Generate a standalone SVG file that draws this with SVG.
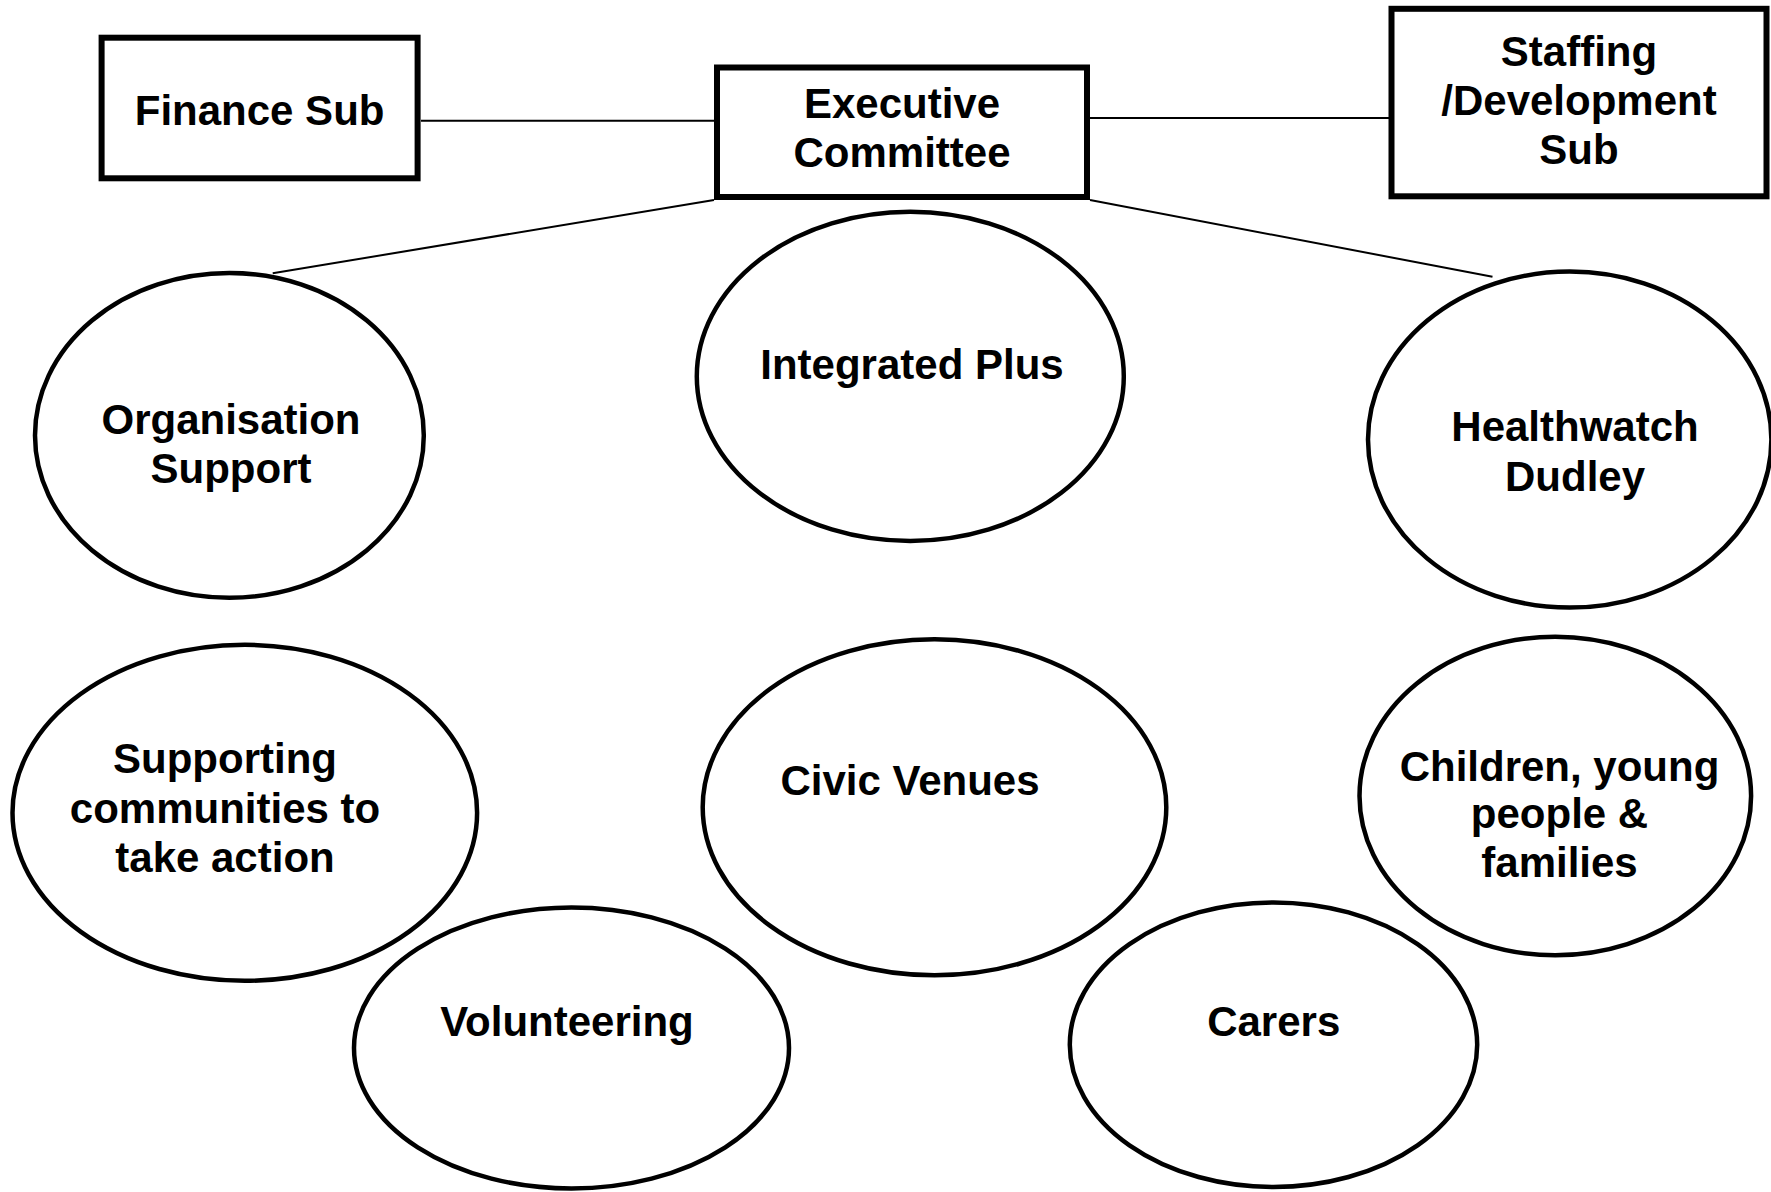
<svg xmlns="http://www.w3.org/2000/svg" width="1771" height="1192" viewBox="0 0 1771 1192">
  <style>
    .box { fill: #ffffff; stroke: #000000; stroke-width: 6; }
    .oval { fill: none; stroke: #000000; stroke-width: 4.5; }
    .link { stroke: #000000; stroke-width: 2; fill: none; }
    .label { font-family: "Liberation Sans", Arial, sans-serif; font-weight: bold; font-size: 42px; fill: #000000; text-anchor: middle; }
  </style>
  <rect x="0" y="0" width="1771" height="1192" fill="#ffffff"/>

  <!-- connectors -->
  <g id="connectors">
    <line class="link" x1="421" y1="120.7" x2="714" y2="120.7"/>
    <line class="link" x1="1090" y1="118" x2="1389" y2="118"/>
    <line class="link" x1="714" y1="200" x2="272.7" y2="273.3"/>
    <line class="link" x1="1090" y1="200" x2="1492.5" y2="276.7"/>
  </g>

  <!-- committees -->
  <g id="finance-sub">
    <rect class="box" x="101.6" y="37.7" width="316" height="140.6"/>
    <text class="label" x="259.6" y="125">Finance Sub</text>
  </g>
  <g id="executive-committee">
    <rect class="box" x="717" y="67.5" width="370" height="129.5"/>
    <text class="label" x="902" y="118">Executive</text>
    <text class="label" x="902" y="167">Committee</text>
  </g>
  <g id="staffing-development-sub">
    <rect class="box" x="1391.5" y="8.8" width="375" height="187.5"/>
    <text class="label" x="1579" y="66">Staffing</text>
    <text class="label" x="1579" y="115">/Development</text>
    <text class="label" x="1579" y="164">Sub</text>
  </g>

  <!-- services -->
  <g id="organisation-support">
    <ellipse class="oval" cx="229.4" cy="435.4" rx="194.4" ry="162.4"/>
    <text class="label" x="231" y="434">Organisation</text>
    <text class="label" x="231" y="483">Support</text>
  </g>
  <g id="integrated-plus">
    <ellipse class="oval" cx="910.3" cy="376.4" rx="213.5" ry="164.6"/>
    <text class="label" x="912" y="379">Integrated Plus</text>
  </g>
  <g id="healthwatch-dudley">
    <ellipse class="oval" cx="1569.7" cy="439.6" rx="201.7" ry="168"/>
    <text class="label" x="1575" y="440.5">Healthwatch</text>
    <text class="label" x="1575" y="490.5">Dudley</text>
  </g>
  <g id="supporting-communities">
    <ellipse class="oval" cx="244.8" cy="812.8" rx="232.3" ry="168"/>
    <text class="label" x="225" y="773">Supporting</text>
    <text class="label" x="225" y="822.5">communities to</text>
    <text class="label" x="225" y="872">take action</text>
  </g>
  <g id="volunteering">
    <ellipse class="oval" cx="571.5" cy="1048" rx="217.5" ry="140.5"/>
    <text class="label" x="567" y="1036">Volunteering</text>
  </g>
  <g id="civic-venues">
    <ellipse class="oval" cx="934.5" cy="807.3" rx="231.8" ry="168"/>
    <text class="label" x="910" y="795">Civic Venues</text>
  </g>
  <g id="children-young-people">
    <ellipse class="oval" cx="1555.3" cy="796" rx="195.8" ry="159.2"/>
    <text class="label" x="1559.5" y="780.5">Children, young</text>
    <text class="label" x="1559.5" y="828">people &amp;</text>
    <text class="label" x="1559.5" y="877">families</text>
  </g>
  <g id="carers">
    <ellipse class="oval" cx="1273.5" cy="1044.7" rx="203.7" ry="142.3"/>
    <text class="label" x="1273.7" y="1036">Carers</text>
  </g>
</svg>
